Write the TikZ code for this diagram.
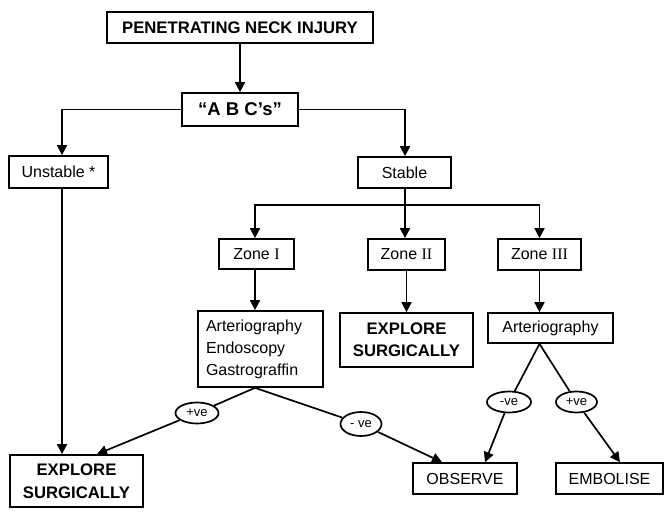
\documentclass[tikz,border=0pt]{standalone}
\usepackage{fontspec}
\setmainfont{Liberation Sans}
\newfontfamily\numeralfont{Liberation Serif}
\usetikzlibrary{arrows.meta,shapes.geometric}
\newcommand{\zonenum}[1]{{\numeralfont #1}}
\tikzset{
  box/.style={draw, line width=1.7pt, inner sep=0pt, align=center,
    font=\fontsize{16}{22}\selectfont},
  boldbox/.style={box, font=\fontsize{16.7}{22.5}\selectfont\bfseries},
  tag/.style={draw, ellipse, line width=1.7pt, inner sep=0pt,
    font=\fontsize{13}{14}\selectfont},
  link/.style={line width=1.7pt},
  arr/.style={line width=1.7pt, -{Triangle[length=10pt,width=10pt]}},
}
\begin{document}
\begin{tikzpicture}[x=1pt,y=-1pt]
\useasboundingbox (0,0) rectangle (669,518);

% boxes
\node[boldbox, minimum width=266pt, minimum height=31pt] (pni) at (240,27.5) {PENETRATING NECK INJURY};
\node[boldbox, minimum width=116pt, minimum height=33pt, font=\fontsize{18.5}{20}\selectfont\bfseries] (abc) at (240,109.5) {“A B C’s”};
\node[box, minimum width=99pt, minimum height=32pt] (unstable) at (58.5,172) {Unstable *};
\node[box, minimum width=93pt, minimum height=31pt] (stable) at (404.5,172.5) {Stable};
\node[box, minimum width=75pt, minimum height=30pt] (zone1) at (256.5,254) {Zone \zonenum{I}};
\node[box, minimum width=77pt, minimum height=31pt] (zone2) at (406.5,254.5) {Zone \zonenum{II}};
\node[box, minimum width=83pt, minimum height=31pt] (zone3) at (539.5,254.5) {Zone \zonenum{III}};
\node[box, minimum width=125pt, minimum height=76pt, align=left, text width=109pt] (aeg) at (260.5,349) {Arteriography\\Endoscopy\\Gastrograffin};
\node[boldbox, minimum width=133pt, minimum height=54pt] (explore2) at (406.5,340) {EXPLORE\\SURGICALLY};
\node[box, minimum width=125pt, minimum height=30pt] (art3) at (550.5,328) {Arteriography};
\node[boldbox, minimum width=133pt, minimum height=52pt] (explore1) at (76.5,481) {EXPLORE\\SURGICALLY};
\node[box, minimum width=104pt, minimum height=31pt] (observe) at (465,478.5) {OBSERVE};
\node[box, minimum width=107pt, minimum height=31pt] (embolise) at (609.5,478.5) {EMBOLISE};

% result tags
\node[tag, minimum width=43pt, minimum height=21pt] (pos1) at (197,413) {+ve};
\node[tag, minimum width=41pt, minimum height=24pt] (neg1) at (361,424) {- ve};
\node[tag, minimum width=44pt, minimum height=21pt] (neg3) at (509,402) {-ve};
\node[tag, minimum width=41pt, minimum height=21pt] (pos3) at (576.5,402) {+ve};

% upper branches
\draw[arr] (pni) -- (abc);
\draw[arr] (abc.west) -| ([xshift=3.5pt]unstable.north);
\draw[arr] (abc.east) -| ([xshift=0.5pt]stable.north);
\draw[arr] ([xshift=3.5pt]unstable.south) -- ([xshift=3.5pt]unstable.south |- explore1.north);

% zones
\coordinate (split) at ([xshift=0.5pt]stable.south |- 0,205);
\draw[link] ([xshift=0.5pt]stable.south) -- (split);
\draw[arr] (split) -| ([xshift=-1.5pt]zone1.north);
\draw[arr] (split) -- (split |- zone2.north);
\draw[arr] (split) -| (zone3.north);
\draw[arr] ([xshift=-1.5pt]zone1.south) -- ([xshift=-1.5pt]zone1.south |- aeg.north);
\draw[arr] (zone2.south) -- (zone2.south |- explore2.north);
\draw[arr] (zone3.south) -- (zone3.south |- art3.north);

% zone I outcomes
\coordinate (a1) at ([xshift=-1.5pt]zone1.south |- aeg.south);
\draw[link] (a1) -- (pos1);
\draw[arr] (pos1) -- ([xshift=20.5pt]explore1.north);
\draw[link] (a1) -- (neg1);
\draw[arr] (neg1) -- ([xshift=-23pt]observe.north);

% zone III outcomes
\coordinate (a3) at (zone3.south |- art3.south);
\draw[link] (a3) -- (neg3);
\draw[arr] (neg3) -- ([xshift=20pt]observe.north);
\draw[link] (a3) -- (pos3);
\draw[arr] (pos3) -- ([xshift=10.5pt]embolise.north);
\end{tikzpicture}
\end{document}
